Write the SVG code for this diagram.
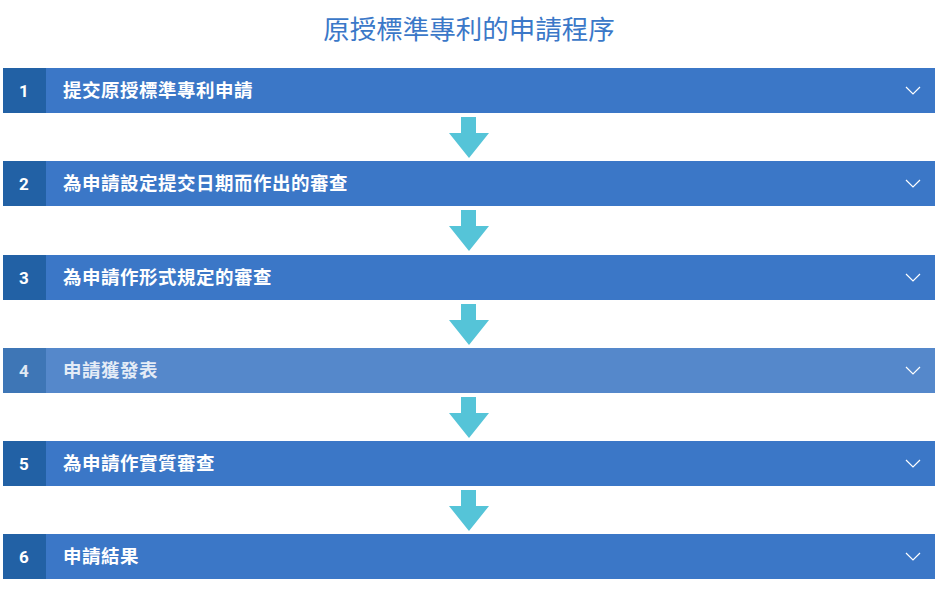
<svg xmlns="http://www.w3.org/2000/svg" width="943" height="592" viewBox="0 0 943 592">
<defs>
<style>
.bar{fill:#3b77c7}.num{fill:#2261a5}
.bar.dim{fill:#5588cb}.num.dim{fill:#3e76b6}
.t{font-family:"Noto Sans CJK TC","Noto Sans CJK SC",sans-serif;font-size:18.5px;font-weight:bold;fill:#fff;letter-spacing:0.5px}
.n{font-family:Roboto,"Liberation Sans",sans-serif;font-size:17px;font-weight:bold;fill:#fff}
.chev{fill:none;stroke:#fff;stroke-width:1.2}
.arr{fill:#55c4d8}
</style>
<g id="row"><rect class="bar" x="3" y="0" width="932" height="45"/><rect class="num" x="3" y="0" width="43" height="45"/><path class="chev" d="M906 19 L913 26 L920 19"/></g>
<path id="ar" class="arr" d="M461 0 H476 V16 H489 L469 41 L449 16 H461 Z"/>
</defs>
<text x="469" y="39" text-anchor="middle" font-family="Noto Sans CJK TC,Noto Sans CJK SC,sans-serif" font-size="26.5" fill="#3b78c8">原授標準專利的申請程序</text>
<g id="connectors">
<use href="#ar" y="117"/><use href="#ar" y="210"/><use href="#ar" y="304"/><use href="#ar" y="397"/><use href="#ar" y="490"/>
</g>
<g id="step1"><use href="#row" y="68"/><text class="n" x="24" y="97" text-anchor="middle">1</text><text class="t" x="63" y="97">提交原授標準專利申請</text></g>
<g id="step2"><use href="#row" y="161"/><text class="n" x="24" y="190" text-anchor="middle">2</text><text class="t" x="63" y="190">為申請設定提交日期而作出的審查</text></g>
<g id="step3"><use href="#row" y="255"/><text class="n" x="24" y="284" text-anchor="middle">3</text><text class="t" x="63" y="284">為申請作形式規定的審查</text></g>
<g id="step4"><rect class="bar dim" x="3" y="348" width="932" height="45"/><rect class="num dim" x="3" y="348" width="43" height="45"/><path class="chev" d="M906 367 L913 374 L920 367"/><text class="n" x="24" y="377" text-anchor="middle" fill-opacity="0.85">4</text><text class="t" x="63" y="377" fill-opacity="0.85">申請獲發表</text></g>
<g id="step5"><use href="#row" y="441"/><text class="n" x="24" y="470" text-anchor="middle">5</text><text class="t" x="63" y="470">為申請作實質審查</text></g>
<g id="step6"><use href="#row" y="534"/><text class="n" x="24" y="563" text-anchor="middle">6</text><text class="t" x="63" y="563">申請結果</text></g>
</svg>
